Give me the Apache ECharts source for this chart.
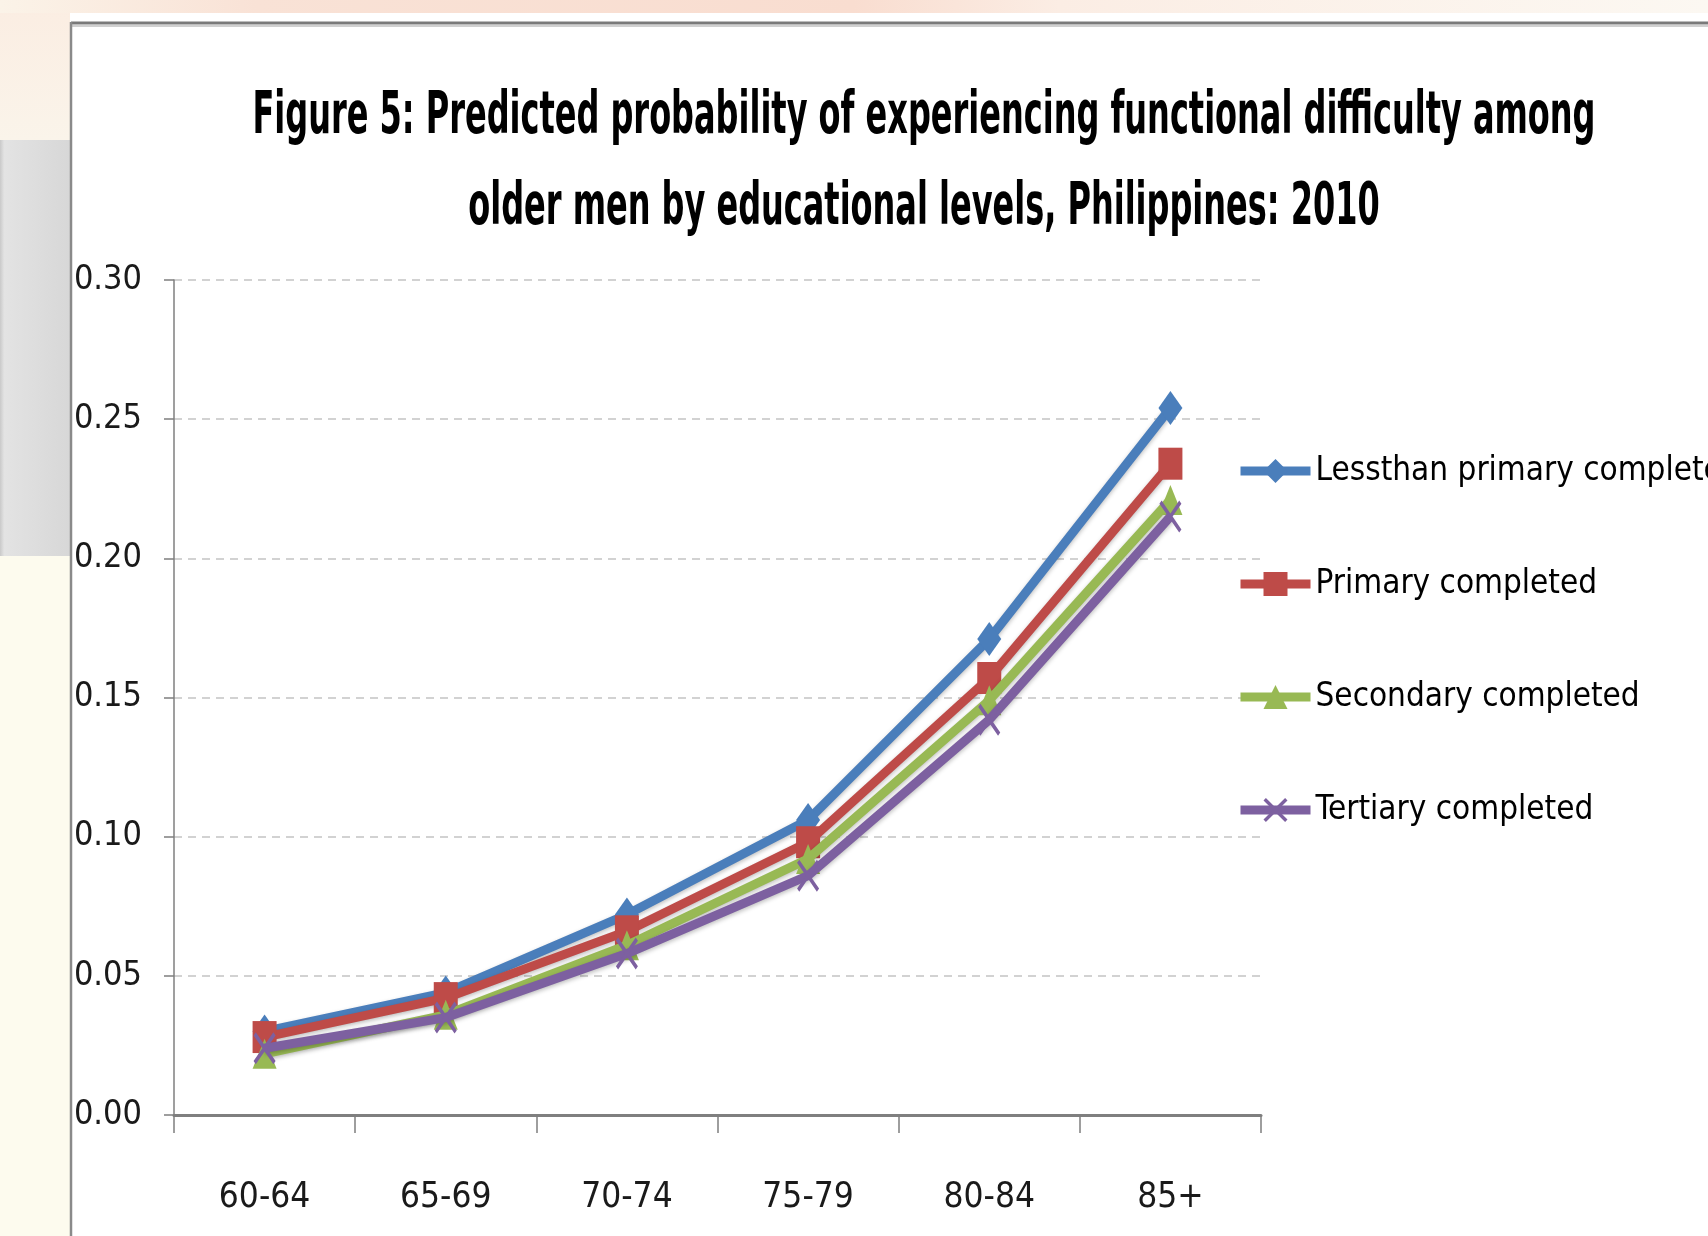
<!DOCTYPE html>
<html>
<head>
<meta charset="utf-8">
<style>
  html, body { margin: 0; padding: 0; background: #ffffff; }
  #chart { width: 1708px; height: 1236px; }
</style>
<script src="https://cdn.jsdelivr.net/npm/echarts@6/dist/echarts.min.js"></script>
</head>
<body>
<div id="chart"></div>
<script>
// ---- data ----
const titleLines = [
  'Figure 5: Predicted probability of experiencing functional difficulty among',
  'older men by educational levels, Philippines: 2010'
];
const categories = ['60-64', '65-69', '70-74', '75-79', '80-84', '85+'];
const seriesNames = ['Lessthan primary completed', 'Primary completed', 'Secondary completed', 'Tertiary completed'];
const lessThanPrimary    = [0.030, 0.044, 0.072, 0.106, 0.171, 0.254];
const primaryCompleted   = [0.028, 0.042, 0.066, 0.098, 0.157, 0.234];
const secondaryCompleted = [0.022, 0.036, 0.061, 0.092, 0.149, 0.221];
const tertiaryCompleted  = [0.024, 0.035, 0.058, 0.086, 0.142, 0.215];
const yMin = 0, yMax = 0.30, yStep = 0.05;

// ---- styling ----
const FONT = "'Liberation Sans Narrow', 'Arial Narrow', 'DejaVu Sans Condensed', sans-serif";
const TITLE_FONT_SIZE = 58;
const TITLE_TARGET_WIDTH = 1343;
const colors = ['#4A7EBB', '#BE4B48', '#98B954', '#7D60A0'];
const symbols = [
  'diamond',
  'rect',
  'triangle',
  'path://M0,1 L1,0 L5,4 L9,0 L10,1 L6,5 L10,9 L9,10 L5,6 L1,10 L0,9 L4,5 Z'
];
const symbolSizes = [[24, 34], [24, 32], [24, 30], [22, 32]];
const values = [lessThanPrimary, primaryCompleted, secondaryCompleted, tertiaryCompleted];

// horizontal compression of the (tall, condensed) title font
const measureCtx = document.createElement('canvas').getContext('2d');
measureCtx.font = 'bold ' + TITLE_FONT_SIZE + 'px ' + FONT;
const titleScaleX = Math.min(1, TITLE_TARGET_WIDTH / measureCtx.measureText(titleLines[0]).width);

const chart = echarts.init(document.getElementById('chart'), null, { renderer: 'canvas' });

const series = seriesNames.map((name, i) => ({
  name: name,
  type: 'line',
  data: values[i],
  symbol: symbols[i],
  symbolSize: symbolSizes[i],
  showAllSymbol: true,
  lineStyle: {
    width: 9,
    color: colors[i],
    shadowColor: 'rgba(0,0,0,0.25)',
    shadowBlur: 4,
    shadowOffsetY: 2
  },
  itemStyle: { color: colors[i] },
  z: 3 + i
}));

const titleTexts = titleLines.map((line, i) => ({
  type: 'text',
  x: 924,
  y: [118, 209][i],
  scaleX: titleScaleX,
  scaleY: 1,
  style: {
    text: line,
    fontFamily: FONT,
    fontWeight: 'bold',
    fontSize: TITLE_FONT_SIZE,
    fill: '#000000',
    align: 'center',
    verticalAlign: 'middle'
  },
  z: 10
}));

const option = {
  backgroundColor: '#ffffff',
  animation: false,
  graphic: [
    // left slide strip
    { type: 'rect', left: 0, top: 0, shape: { width: 70, height: 1236 }, style: { fill: '#FDFBEE' }, silent: true, z: -10 },
    { type: 'rect', left: 0, top: 0, shape: { width: 70, height: 140 },
      style: { fill: new echarts.graphic.LinearGradient(0, 0, 0, 1, [{ offset: 0, color: '#FBEDE2' }, { offset: 1, color: '#FAF4EA' }]) }, silent: true, z: -9 },
    { type: 'rect', left: 0, top: 140, shape: { width: 70, height: 416 },
      style: { fill: new echarts.graphic.LinearGradient(0, 0, 1, 0, [
        { offset: 0, color: '#C9C9C9' }, { offset: 0.06, color: '#E3E3E3' }, { offset: 1, color: '#D7D7D7' }]) }, silent: true, z: -9 },
    // top slide strip
    { type: 'rect', left: 0, top: 0, shape: { width: 1708, height: 13 },
      style: { fill: new echarts.graphic.LinearGradient(0, 0, 1, 0, [
        { offset: 0, color: '#FBF3E8' }, { offset: 0.15, color: '#F9E2D6' },
        { offset: 0.5, color: '#F9DDD0' }, { offset: 0.62, color: '#FBEDE4' }, { offset: 1, color: '#FCF8F2' }]) },
      silent: true, z: -9 },
    // chart frame
    { type: 'line', shape: { x1: 71, y1: 23, x2: 1708, y2: 23 }, style: { stroke: '#7A7A7A', lineWidth: 3 }, silent: true, z: -5 },
    { type: 'line', shape: { x1: 71, y1: 26, x2: 1708, y2: 26 }, style: { stroke: '#D0D0D0', lineWidth: 2 }, silent: true, z: -5 },
    { type: 'line', shape: { x1: 71, y1: 22, x2: 71, y2: 1236 }, style: { stroke: '#8A8A8A', lineWidth: 2.5 }, silent: true, z: -5 }
  ].concat(titleTexts),
  legend: {
    orient: 'vertical',
    left: 1236,
    top: 451,
    padding: 0,
    itemWidth: 70,
    itemHeight: 30,
    itemGap: 73,
    data: seriesNames,
    lineStyle: { width: 9 },
    textStyle: {
      fontFamily: FONT,
      fontSize: 33,
      lineHeight: 40,
      color: '#000000'
    }
  },
  grid: {
    left: 174,
    right: 447,
    top: 280,
    bottom: 121,
    containLabel: false
  },
  xAxis: {
    type: 'category',
    data: categories,
    boundaryGap: true,
    axisLine: { show: true, lineStyle: { color: '#7F7F7F', width: 3 } },
    axisTick: { show: true, length: 18, lineStyle: { color: '#7F7F7F', width: 1.5 } },
    axisLabel: {
      margin: 63,
      fontFamily: FONT,
      fontSize: 35,
      lineHeight: 40,
      color: '#1A1A1A'
    },
    splitLine: { show: false }
  },
  yAxis: {
    type: 'value',
    min: yMin,
    max: yMax,
    interval: yStep,
    axisLine: { show: true, lineStyle: { color: '#7F7F7F', width: 1.5 } },
    axisTick: { show: true, length: 10, lineStyle: { color: '#7F7F7F', width: 1.5 } },
    axisLabel: {
      margin: 32,
      fontFamily: FONT,
      fontSize: 34,
      color: '#1A1A1A',
      formatter: v => v.toFixed(2)
    },
    splitLine: {
      show: true,
      lineStyle: { color: '#C4C4C4', width: 1.5, type: [8, 6] }
    }
  },
  series: series
};

chart.setOption(option);
</script>
</body>
</html>
